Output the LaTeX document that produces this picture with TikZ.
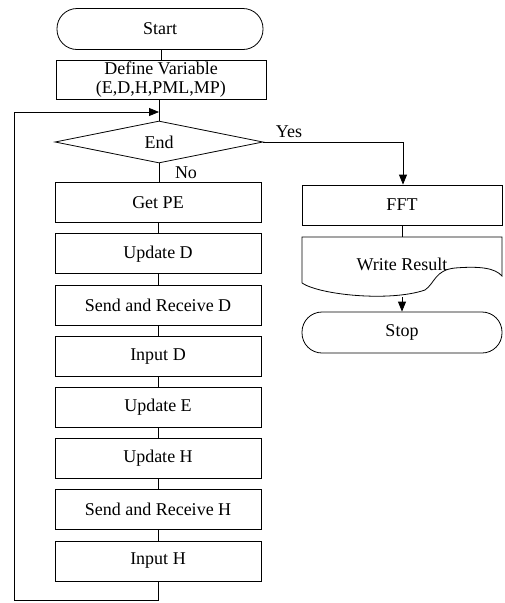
\documentclass[tikz,border=0pt]{standalone}
\usepackage{fontspec}
\setmainfont{Liberation Serif}
\usetikzlibrary{shapes.geometric,arrows.meta}
\begin{document}
\begin{tikzpicture}[x=1pt,y=-1pt,
  every node/.style={font=\fontsize{18}{19}\selectfont},
  procbox/.style={draw,line width=0.8pt,minimum width=206pt,minimum height=40pt,inner sep=0pt},
  termbox/.style={draw,line width=0.8pt,rounded corners=20pt,minimum height=41pt,inner sep=0pt},
  conn/.style={line width=0.8pt},
  arr/.style={line width=0.8pt,-{Triangle[length=10pt,width=8pt]}},
  lbl/.style={inner sep=0pt}]
\useasboundingbox (0,0) rectangle (504,603);
% left column
\node[termbox,minimum width=206pt] (start) at (160,29) {Start};
\node[procbox,minimum width=210pt,minimum height=39pt,align=center] (define) at (161,79.5) {Define Variable\\(E,D,H,PML,MP)};
\node[draw,diamond,line width=0.8pt,aspect=5,minimum width=208pt,minimum height=42pt,inner sep=0pt] (dia) at (159,142) {End};
\node[procbox] (getpe) at (158,202.5) {Get PE};
\node[procbox] (upd) at (158,253.7) {Update D};
\node[procbox] (srd) at (158,304.9) {Send and Receive D};
\node[procbox] (ind) at (158,356.1) {Input D};
\node[procbox] (upe) at (158,407.3) {Update E};
\node[procbox] (uph) at (158,458.5) {Update H};
\node[procbox] (srh) at (158,509.7) {Send and Receive H};
\node[procbox] (inh) at (158,560.9) {Input H};
% right column
\node[procbox,minimum width=200pt] (fft) at (402,205) {FFT};
\draw[line width=0.8pt] (302,283) -- (302,237) -- (502,237) -- (502,276)
  .. controls (495,268) and (480,266) .. (455,268)
  .. controls (435,270) and (435,283) .. (425,290)
  .. controls (390,302) and (320,295) .. (302,283);
\coordinate (wtop) at (402,237);
\coordinate (wbot) at (402,297);
\node[lbl] (write) at (402,264) {Write Result};
\node[termbox,minimum width=200pt] (stop) at (402,332.5) {Stop};
% labels
\node[lbl] (yes) at (289,132) {Yes};
\node[lbl] (no) at (186,173) {No};
% connectors
\draw[conn] (start.south -| define.north) -- (define.north);
\draw[conn] (define.south -| dia.north) -- (dia.north);
\draw[conn] (dia.south) -- (dia.south |- getpe.north);
\draw[conn] (getpe) -- (upd);
\draw[conn] (upd) -- (srd);
\draw[conn] (srd) -- (ind);
\draw[conn] (ind) -- (upe);
\draw[conn] (upe) -- (uph);
\draw[conn] (uph) -- (srh);
\draw[conn] (srh) -- (inh);
\coordinate (lpb) at (158,600);
\coordinate (lpl) at (14,600);
\coordinate (lpt) at (14,112);
\coordinate (lpe) at (159,112);
\draw[arr] (inh.south) -- (lpb) -- (lpl) -- (lpt) -- (lpe);
\coordinate (yc) at (403,142);
\draw[arr] (dia.east) -- (yc) -- (fft.north -| yc);
\draw[conn] (fft.south) -- (wtop);
\draw[arr] (wbot) -- (stop.north);
\end{tikzpicture}
\end{document}
